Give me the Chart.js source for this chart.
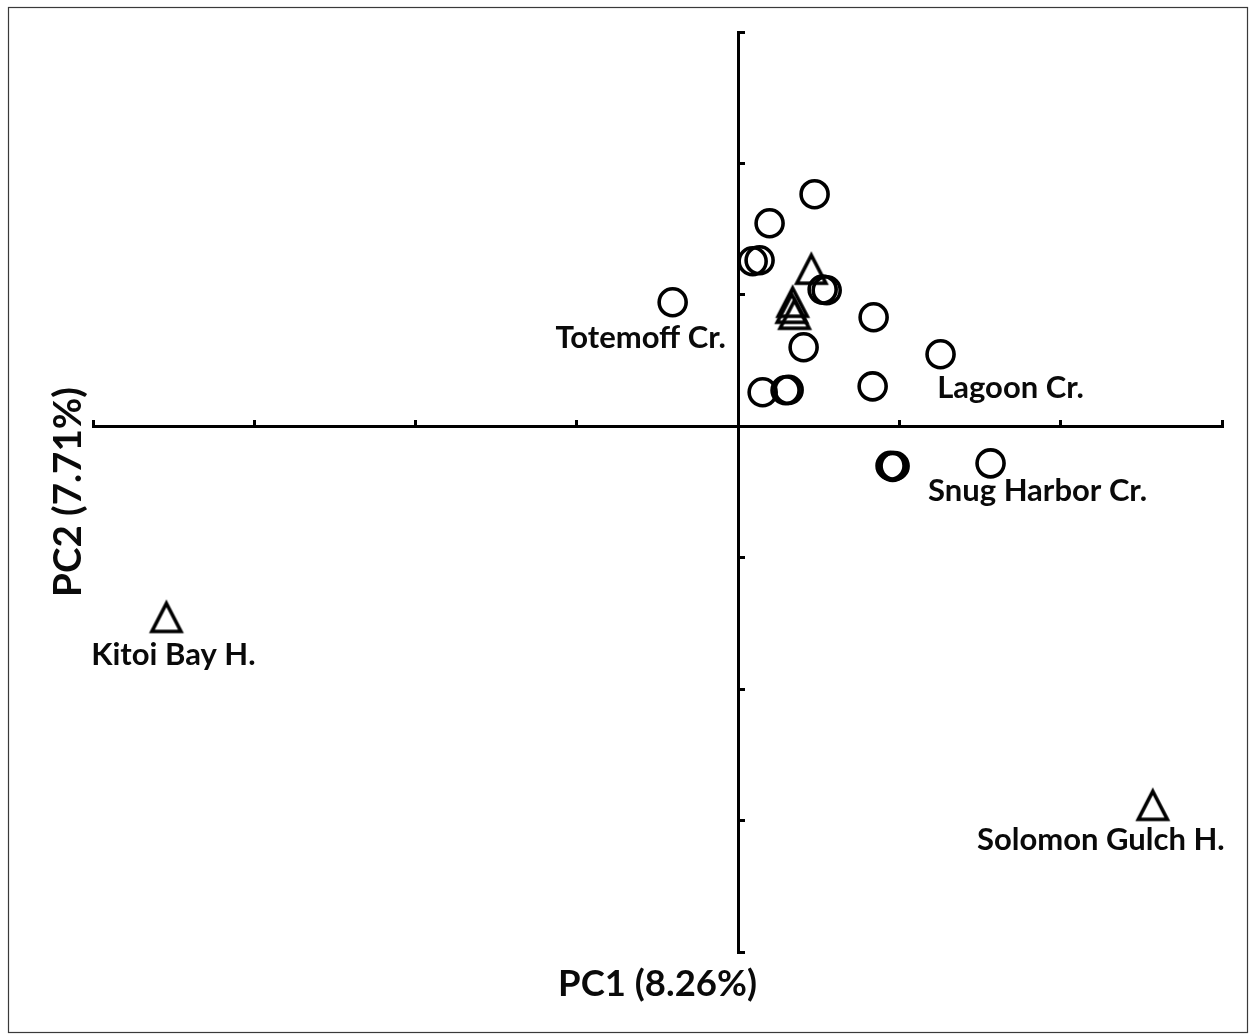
<!DOCTYPE html>
<html>
<head>
<meta charset="utf-8">
<title>PCA of sampled sites</title>
<script src="https://cdn.jsdelivr.net/npm/chart.js@4.4.1/dist/chart.umd.min.js"></script>
<style>
  html, body { margin: 0; padding: 0; background: #fff; }
  canvas { display: block; }
</style>
</head>
<body>
<canvas id="pca" width="1249" height="1035"></canvas>
<script>
// Principal component scores: wild populations (circles) and hatcheries (triangles)
const circleX = [0.474, 0.195, 0.090, 0.133, -0.406, 0.524, 0.549, 0.840, 0.406, 0.152, 0.294, 0.313, 0.834, 1.255, 0.945, 0.958, 0.970, 1.565];
const circleY = [1.766, 1.545, 1.256, 1.263, 0.944, 1.040, 1.035, 0.830, 0.601, 0.259, 0.274, 0.277, 0.304, 0.548, -0.300, -0.310, -0.302, -0.282];
const triangleX = [0.454, 0.338, 0.332, 0.350, -3.545, 2.571];
const triangleY = [1.195, 0.944, 0.898, 0.852, -1.454, -2.884];

// Named sites: which series and which point each name belongs to
const siteNames = ['Totemoff Cr.', 'Lagoon Cr.', 'Snug Harbor Cr.', 'Kitoi Bay H.', 'Solomon Gulch H.'];
const siteSeries = ['circle', 'circle', 'circle', 'triangle', 'triangle'];
const siteIndex = [4, 13, 17, 4, 5];

const axisTicks = [-4, -3, -2, -1, 0, 1, 2, 3];
const axisTitleX = 'PC1 (8.26%)';
const axisTitleY = 'PC2 (7.71%)';

// Label placement relative to its point (pixels, text centre / baseline)
const labelDx = [-32, 70, 47, 7, -52];
const labelDy = [46, 44, 38, 48, 45];

const toPoints = (xs, ys) => xs.map((v, i) => ({ x: v, y: ys[i] }));

// Open triangle marker, a little taller than equilateral
function triangleMarker(w, h, lw) {
  const c = document.createElement('canvas');
  c.width = 46; c.height = 46;
  const g = c.getContext('2d');
  g.lineWidth = lw;
  g.strokeStyle = '#000';
  g.lineJoin = 'miter';
  g.beginPath();
  g.moveTo(23, 23 - h / 2);
  g.lineTo(23 + w / 2, 23 + h / 2);
  g.lineTo(23 - w / 2, 23 + h / 2);
  g.closePath();
  g.stroke();
  return c;
}

const whiteBackground = {
  id: 'whiteBackground',
  beforeDraw(chart) {
    const { ctx, width, height } = chart;
    ctx.save();
    ctx.fillStyle = '#fff';
    ctx.fillRect(0, 0, width, height);
    ctx.restore();
  }
};

const outerFrame = {
  id: 'outerFrame',
  afterDraw(chart) {
    const { ctx } = chart;
    ctx.save();
    ctx.strokeStyle = '#3a3a3a';
    ctx.lineWidth = 1.2;
    ctx.strokeRect(8.5, 7.5, 1239, 1025);
    ctx.restore();
  }
};

const textLayer = {
  id: 'textLayer',
  afterDatasetsDraw(chart) {
    const { ctx, chartArea, scales } = chart;
    ctx.save();
    ctx.fillStyle = '#0a0a0a';
    ctx.textAlign = 'center';
    ctx.textBaseline = 'alphabetic';
    ctx.font = 'bold 31px Lato, "Open Sans", sans-serif';
    siteNames.forEach((name, i) => {
      const xs = siteSeries[i] === 'circle' ? circleX : triangleX;
      const ys = siteSeries[i] === 'circle' ? circleY : triangleY;
      const px = scales.x.getPixelForValue(xs[siteIndex[i]]);
      const py = scales.y.getPixelForValue(ys[siteIndex[i]]);
      ctx.fillText(name, px + labelDx[i], py + labelDy[i]);
    });

    ctx.font = 'bold 36.5px Lato, "Open Sans", sans-serif';
    ctx.fillText(axisTitleX, (chartArea.left + chartArea.right) / 2, chartArea.bottom + 44);

    ctx.translate(chartArea.left - 12, (chartArea.top + chartArea.bottom) / 2);
    ctx.rotate(-Math.PI / 2);
    ctx.font = 'bold 38.5px Lato, "Open Sans", sans-serif';
    ctx.fillText(axisTitleY, 0, 0);
    ctx.restore();
  }
};

const useTicks = scale => { scale.ticks = axisTicks.map(v => ({ value: v })); };

const crossAxis = (at) => ({
  type: 'linear',
  min: axisTicks[0],
  max: axisTicks[axisTicks.length - 1],
  position: at,
  afterBuildTicks: useTicks,
  ticks: { display: false },
  grid: {
    drawOnChartArea: false,
    drawTicks: true,
    tickLength: -8,
    tickWidth: 3,
    tickColor: '#000'
  },
  border: { display: true, width: 3, color: '#000' },
  title: { display: false }
});

new Chart(document.getElementById('pca'), {
  type: 'scatter',
  data: {
    datasets: [
      {
        label: 'Wild',
        data: toPoints(circleX, circleY),
        pointStyle: 'circle',
        pointRadius: 13.5,
        pointBorderWidth: 3.6,
        borderColor: '#000',
        backgroundColor: 'rgba(0,0,0,0)'
      },
      {
        label: 'Hatchery',
        data: toPoints(triangleX, triangleY),
        pointStyle: triangleMarker(29, 28, 3.6),
        pointRadius: 16,
        borderColor: '#000',
        backgroundColor: 'rgba(0,0,0,0)'
      }
    ]
  },
  options: {
    responsive: false,
    animation: false,
    events: [],
    clip: false,
    layout: { padding: { left: 93, right: 27, top: 32, bottom: 83 } },
    plugins: {
      legend: { display: false },
      tooltip: { enabled: false },
      title: { display: false }
    },
    scales: {
      x: crossAxis({ y: 0 }),
      y: crossAxis({ x: 0 })
    }
  },
  plugins: [whiteBackground, textLayer, outerFrame]
});
</script>
</body>
</html>
